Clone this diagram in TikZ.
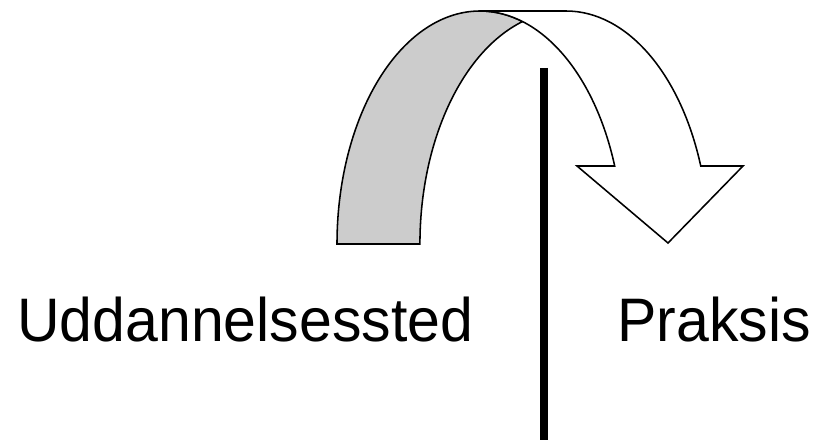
\documentclass[tikz,border=0pt]{standalone}
\usepackage{fontspec}
\setmainfont{Liberation Sans}[FakeStretch=0.96]
\tikzset{
arrow outline/.style={line width=1.1pt, line join=miter},
back face/.style={arrow outline, fill=black!20},
front face/.style={arrow outline, fill=white},
divider/.style={line width=5.3pt},
side text/.style={inner sep=0pt, anchor=base west, font=\fontsize{43.7}{52}\selectfont},
}

\begin{document}
\begin{tikzpicture}[x=0.025cm,y=0.025cm]
        \useasboundingbox (0,0) rectangle (818,440);

        \coordinate (back outer) at (337,196);
        \coordinate (front top) at (480,429);
        \coordinate (front bend) at (566,429);
        \coordinate (shaft inner) at (614.7,274);

        % Divider
        \coordinate (divider top) at (544,372);
        \coordinate (divider bottom) at (544,0);
        \draw[divider] (divider top) -- (divider bottom);

        % Back of the curved arrow
        \draw[back face] (back outer)
        arc[start angle=180, end angle=72.7, x radius=143, y radius=233]
        arc[start angle=107.3, end angle=180, x radius=146, y radius=233] -- cycle;

        % Front of the curved arrow with its head
        \draw[front face] (front top) -- (front bend)
        arc[start angle=90, end angle=19.56, x radius=143, y radius=233]
        -- (743,274) -- (668,197) -- (577,274) -- (shaft inner)
        arc[start angle=19.56, end angle=90, x radius=143, y radius=233] -- cycle;

        % Places
        \node[side text] (school) at (17,98) {Uddannelsessted};
        \node[side text] (practice) at (617,98) {Praksis};

\end{tikzpicture}
\end{document}
